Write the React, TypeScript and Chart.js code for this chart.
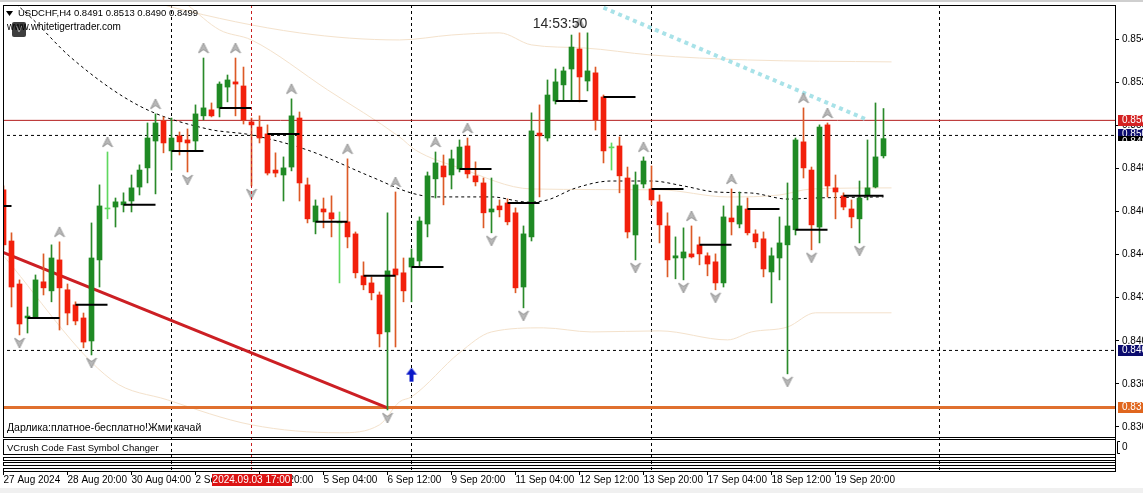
import React, { useEffect, useRef } from 'react';
import { Chart, registerables } from 'chart.js';

Chart.register(...registerables);

const FONT = '"Liberation Sans", Arial, sans-serif';

// ---------------- texts ----------------
const symbolTitle = 'USDCHF,H4';
const headerOHLC = ['0.8491', '0.8513', '0.8490', '0.8499'];
const siteText = 'www.whitetigertrader.com';
const clockText = '14:53:50';
const commentText = 'Дарлика:платное-бесплатно!Жми качай';
const panelText = 'VCrush Code Fast Symbol Changer';
const crosshairTimeText = '2024.09.03 17:00';

// ---------------- candles (H4, index 0 = 27 Aug 12:00) ----------------
const opens = [
  0.84752, 0.84514, 0.84314, 0.84156, 0.84161, 0.84324, 0.84282, 0.84426, 0.84287, 0.84217,
  0.84156, 0.84049, 0.84426, 0.84663, 0.84672, 0.84682, 0.847, 0.84765, 0.84854, 0.84979,
  0.85072, 0.84933, 0.85003, 0.84984, 0.84979, 0.85096, 0.85124, 0.85133, 0.8523, 0.85254,
  0.85235, 0.85068, 0.85044, 0.85012, 0.84844, 0.84821, 0.84858, 0.85086, 0.84775, 0.84603,
  0.84663, 0.84645, 0.84598, 0.84603, 0.84547, 0.84352, 0.84319, 0.84263, 0.84091, 0.84384,
  0.84366, 0.84393, 0.84421, 0.84593, 0.84803, 0.84863, 0.84821, 0.84849, 0.84956, 0.84817,
  0.84784, 0.84649, 0.84677, 0.84691, 0.84645, 0.843, 0.84533, 0.85016, 0.84993, 0.85165,
  0.8524, 0.85314, 0.85407, 0.85258, 0.85296, 0.85184, 0.84947, 0.84956, 0.84807, 0.84542,
  0.84779, 0.84756, 0.84696, 0.84584, 0.84435, 0.84435, 0.84454, 0.84496, 0.84445, 0.84417,
  0.84319, 0.84621, 0.84593, 0.84663, 0.84547, 0.84524, 0.8437, 0.84435, 0.84496, 0.84566,
  0.84975, 0.84844, 0.84579, 0.85054, 0.84761, 0.84724, 0.84663, 0.84617, 0.84728, 0.84765,
  0.8491,
];
const highs = [
  0.8477, 0.84552, 0.84333, 0.84207, 0.84356, 0.84454, 0.84496, 0.8451, 0.84314, 0.84231,
  0.84179, 0.84598, 0.84775, 0.84928, 0.84714, 0.84738, 0.84821, 0.84868, 0.85063, 0.85105,
  0.85091, 0.85086, 0.85021, 0.85035, 0.85147, 0.85365, 0.85156, 0.85254, 0.85286, 0.85365,
  0.85323, 0.85086, 0.85096, 0.85054, 0.84924, 0.84905, 0.85175, 0.85114, 0.84807, 0.84705,
  0.84714, 0.84724, 0.84649, 0.84896, 0.84556, 0.84417, 0.84347, 0.84277, 0.84645, 0.84742,
  0.84435, 0.84477, 0.84626, 0.84835, 0.84928, 0.84914, 0.84937, 0.84984, 0.84993, 0.84882,
  0.84807, 0.84807, 0.84705, 0.8471, 0.84668, 0.84584, 0.8511, 0.85147, 0.85263, 0.85314,
  0.85323, 0.85472, 0.85482, 0.85482, 0.85323, 0.85193, 0.8497, 0.84998, 0.84858, 0.84835,
  0.84905, 0.84863, 0.84728, 0.84645, 0.84533, 0.84575, 0.84584, 0.84533, 0.84459, 0.84454,
  0.84677, 0.84756, 0.84742, 0.84714, 0.84566, 0.84556, 0.84482, 0.84626, 0.84784, 0.84993,
  0.85133, 0.84858, 0.85054, 0.85063, 0.84821, 0.84738, 0.84705, 0.84793, 0.84984, 0.85156,
  0.8513,
];
const lows = [
  0.84473, 0.84207, 0.84077, 0.84086, 0.84156, 0.84263, 0.84231, 0.841, 0.84124, 0.84124,
  0.84017, 0.83984, 0.843, 0.84617, 0.84579, 0.84649, 0.84649, 0.84728, 0.84784, 0.84733,
  0.84924, 0.84844, 0.84914, 0.84835, 0.84937, 0.85077, 0.85091, 0.85091, 0.85161, 0.85096,
  0.85058, 0.8477, 0.8497, 0.84821, 0.84812, 0.847, 0.8484, 0.847, 0.84598, 0.84547,
  0.84575, 0.84533, 0.84319, 0.84482, 0.84342, 0.84287, 0.8424, 0.84021, 0.83728, 0.84021,
  0.84231, 0.84231, 0.84393, 0.84533, 0.84714, 0.84682, 0.84756, 0.84835, 0.84807, 0.8477,
  0.84575, 0.84552, 0.84626, 0.84589, 0.84273, 0.84203, 0.84514, 0.84719, 0.84979, 0.85151,
  0.8517, 0.8517, 0.85161, 0.85212, 0.8503, 0.84877, 0.84844, 0.84738, 0.84528, 0.84426,
  0.84761, 0.84682, 0.84505, 0.84347, 0.84338, 0.84333, 0.84435, 0.84403, 0.84352, 0.84287,
  0.843, 0.84542, 0.84575, 0.84542, 0.84482, 0.84347, 0.84226, 0.84333, 0.83896, 0.84542,
  0.84807, 0.84473, 0.84505, 0.84719, 0.84617, 0.84659, 0.84575, 0.84505, 0.84705, 0.84761,
  0.849,
];
const closes = [
  0.84496, 0.843, 0.84128, 0.84165, 0.84333, 0.84296, 0.84435, 0.84296, 0.84179, 0.84142,
  0.84044, 0.84435, 0.84677, 0.84663, 0.84696, 0.84696, 0.84761, 0.84844, 0.84993, 0.85063,
  0.8497, 0.84993, 0.84975, 0.8497, 0.85105, 0.85133, 0.85096, 0.85244, 0.85263, 0.85244,
  0.85077, 0.85054, 0.84993, 0.8483, 0.8483, 0.84854, 0.85096, 0.84784, 0.84617, 0.84677,
  0.84649, 0.84617, 0.84598, 0.84533, 0.84366, 0.8431, 0.84273, 0.84082, 0.84375, 0.84356,
  0.84282, 0.84435, 0.84607, 0.84817, 0.84877, 0.84812, 0.84896, 0.84951, 0.84826, 0.84789,
  0.84645, 0.84663, 0.84659, 0.84603, 0.84296, 0.84547, 0.85026, 0.85003, 0.85193, 0.85254,
  0.85305, 0.85416, 0.85277, 0.85305, 0.85077, 0.84933, 0.84947, 0.84817, 0.84556, 0.84775,
  0.84886, 0.84705, 0.84589, 0.84426, 0.84445, 0.84463, 0.8444, 0.84454, 0.84407, 0.84319,
  0.84626, 0.84603, 0.84677, 0.84552, 0.8451, 0.84384, 0.84445, 0.84505, 0.84584, 0.84984,
  0.84854, 0.84589, 0.85044, 0.8477, 0.84742, 0.84672, 0.84626, 0.84714, 0.84761, 0.84905,
  0.8499,
];

// ---------------- axes ----------------
const xTickIdx = [0, 8, 16, 24, 32, 40, 48, 56, 64, 72, 80, 88, 96, 104];
const xTickLabels = [
  '27 Aug 2024', '28 Aug 20:00', '30 Aug 04:00', '2 Sep 12:00', '3 Sep 20:00', '5 Sep 04:00', '6 Sep 12:00',
  '9 Sep 20:00', '11 Sep 04:00', '12 Sep 12:00', '13 Sep 20:00', '17 Sep 04:00', '18 Sep 12:00', '19 Sep 20:00',
];
const yTicks = [0.8365, 0.8385, 0.8405, 0.8425, 0.8445, 0.8465, 0.8485, 0.8505, 0.8525, 0.8545];
const yMin = 0.834442;
const yMax = 0.856116;
const xMin = -0.0625;
const xMax = 138.9375;

// ---------------- markers / lines ----------------
const separatorIdx = [21, 51, 81, 117];
const crosshairIdx = 31;
const dayStartIdx = [3, 9, 15, 21, 27, 33, 39, 45, 51, 57, 63, 69, 75, 81, 87, 93, 99, 105];
const prevDayStartIdx = -3;
const prevDayOpen = 0.84677;
const dayLineLen = 4;

const resistanceLevel = 0.85075;
const askLevel = 0.85005;
const supportLevel = 0.84005;
const bottomLevel = 0.8374;

const trendIdx = [-1, 48];
const trendPrices = [0.84475, 0.83738];
const dottedIdx = [75, 108];
const dottedPrices = [0.85599, 0.85077];

const maIdx = [1, 3.5, 8.5, 17, 25.5, 31, 38, 46, 51, 54, 61, 65.5, 68, 71.5, 76, 81, 85, 89, 93.5, 98, 101.5, 110];
const maPrices = [0.85635, 0.85551, 0.85365, 0.85142, 0.85035, 0.85007, 0.84937, 0.84812, 0.84737, 0.84719, 0.84719,
  0.84695, 0.84705, 0.8476, 0.84793, 0.84793, 0.8477, 0.84742, 0.84737, 0.84709, 0.84714, 0.84719];

const upperBandIdx = [18, 21, 37, 49.5, 56, 62, 66, 72.5, 81, 93, 111];
const upperBandPrices = [0.85635, 0.85602, 0.85482, 0.85449, 0.85472, 0.85482, 0.85426, 0.85412, 0.85379, 0.85356, 0.85347];
const midBandIdx = [23, 27, 31, 40.5, 49.5, 51.5, 57, 66, 82, 90.5, 97, 101, 111];
const midBandPrices = [0.85612, 0.85496, 0.85449, 0.85217, 0.84998, 0.84937, 0.84854, 0.84756, 0.84752, 0.84719, 0.84728, 0.84756, 0.84761];
const lowerBandIdx = [-0.5, 13.5, 20.5, 31, 42, 47, 49.5, 51, 57, 61, 67.5, 73.5, 82, 90.5, 93.5, 98, 101.5, 111];
const lowerBandPrices = [0.84467, 0.83868, 0.83775, 0.83659, 0.83622, 0.83659, 0.83766, 0.83789, 0.83994, 0.84091,
  0.8411, 0.84091, 0.84096, 0.84054, 0.84091, 0.84114, 0.8418, 0.8418];

const upFractalIdx = [7, 13, 19, 25, 29, 36, 43, 49, 54, 58, 72, 80, 86, 91, 100, 103];
const downFractalIdx = [2, 11, 23, 31, 48, 61, 65, 79, 85, 89, 98, 101, 107];
const buySignalIdx = 51;
const buySignalPrice = 0.8389;

// ---------------- colours ----------------
const BULL = '#1f8a24';
const BEAR = '#f2200c';
const DOJI = '#5fd85f';
const BULL_WICK = '#2a8a2a';
const BEAR_WICK = '#dc5a26';

const pts = (xs: number[], ys: number[]) => xs.map((x, i) => ({ x, y: ys[i] }));

function makeFractalGlyph(up: boolean): HTMLCanvasElement {
  const c = document.createElement('canvas');
  c.width = 12;
  c.height = 40;
  const g = c.getContext('2d')!;
  g.fillStyle = '#b8b8b8';
  g.strokeStyle = '#959595';
  g.lineWidth = 1;
  g.beginPath();
  if (up) {
    g.moveTo(6, 5); g.lineTo(11, 15); g.lineTo(6, 11.5); g.lineTo(1, 15);
  } else {
    g.moveTo(6, 33); g.lineTo(11, 23); g.lineTo(6, 26.5); g.lineTo(1, 23);
  }
  g.closePath();
  g.fill();
  g.stroke();
  return c;
}

function makeBuyArrow(): HTMLCanvasElement {
  const c = document.createElement('canvas');
  c.width = 12;
  c.height = 15;
  const g = c.getContext('2d')!;
  g.fillStyle = '#0a18c8';
  g.beginPath();
  g.moveTo(6, 0); g.lineTo(11.5, 7); g.lineTo(8, 7); g.lineTo(8, 14); g.lineTo(4, 14); g.lineTo(4, 7); g.lineTo(0.5, 7);
  g.closePath();
  g.fill();
  return c;
}

function priceTag(ctx: CanvasRenderingContext2D, y: number, bg: string, text: string) {
  const yy = Math.round(y);
  ctx.fillStyle = bg;
  ctx.fillRect(1118, yy - 5, 25, 11);
  ctx.fillStyle = '#ffffff';
  ctx.font = `10px ${FONT}`;
  ctx.textAlign = 'left';
  ctx.textBaseline = 'middle';
  ctx.fillText(text, 1122, yy + 0.5);
}

const decoPlugin = {
  id: 'mt4Deco',
  beforeDraw(chart: any) {
    const ctx = chart.ctx as CanvasRenderingContext2D;
    ctx.save();
    ctx.fillStyle = '#ffffff';
    ctx.fillRect(0, 0, chart.width, chart.height);
    ctx.fillStyle = '#cfcfcf';
    ctx.fillRect(0, 0, chart.width, 2);
    ctx.fillStyle = '#f0f0f0';
    ctx.fillRect(0, 488, chart.width, chart.height - 488);
    ctx.restore();
  },
  beforeDatasetsDraw(chart: any) {
    const ctx = chart.ctx as CanvasRenderingContext2D;
    const { chartArea, scales } = chart;
    ctx.save();
    ctx.strokeStyle = '#000000';
    ctx.lineWidth = 1;
    ctx.setLineDash([3, 3]);
    for (const k of separatorIdx) {
      const px = Math.floor(scales.x.getPixelForValue(k)) + 0.5;
      ctx.beginPath();
      ctx.moveTo(px, chartArea.top);
      ctx.lineTo(px, chartArea.bottom);
      ctx.stroke();
    }
    ctx.restore();
  },
  afterDatasetsDraw(chart: any) {
    const ctx = chart.ctx as CanvasRenderingContext2D;
    const { chartArea, scales } = chart;
    ctx.save();
    ctx.strokeStyle = '#c81e1e';
    ctx.lineWidth = 1;
    ctx.setLineDash([3, 3]);
    const px = Math.floor(scales.x.getPixelForValue(crosshairIdx)) + 0.5;
    ctx.beginPath();
    ctx.moveTo(px, chartArea.top);
    ctx.lineTo(px, chartArea.bottom);
    ctx.stroke();
    ctx.restore();
  },
  afterDraw(chart: any) {
    const ctx = chart.ctx as CanvasRenderingContext2D;
    const { scales } = chart;
    ctx.save();
    ctx.setLineDash([]);
    ctx.strokeStyle = '#000000';
    ctx.lineWidth = 1;
    // main window frame and indicator sub-windows
    ctx.strokeRect(3.5, 5.5, 1112, 432);
    ctx.strokeRect(3.5, 439.5, 1112, 15);
    ctx.strokeRect(3.5, 457.5, 1112, 3);
    ctx.strokeRect(3.5, 462.5, 1112, 3);
    ctx.strokeRect(3.5, 468.5, 1112, 3);
    // sub-window scale bracket
    ctx.beginPath();
    ctx.moveTo(1120, 441.5); ctx.lineTo(1117.5, 441.5); ctx.lineTo(1117.5, 453.5); ctx.lineTo(1120, 453.5);
    ctx.stroke();

    // header
    ctx.fillStyle = '#000000';
    ctx.beginPath();
    ctx.moveTo(6, 11); ctx.lineTo(13, 11); ctx.lineTo(9.5, 16); ctx.closePath();
    ctx.fill();
    ctx.font = `9.5px ${FONT}`;
    ctx.textAlign = 'left';
    ctx.textBaseline = 'middle';
    ctx.fillText(`${symbolTitle} ${headerOHLC.join(' ')}`, 18, 13.5);

    // badge + site
    ctx.fillStyle = '#3e3e3e';
    ctx.beginPath();
    (ctx as any).roundRect(12, 22, 14, 15, 2);
    ctx.fill();
    ctx.fillStyle = '#9c9c9c';
    ctx.font = `bold 9px ${FONT}`;
    ctx.textAlign = 'center';
    ctx.fillText('V', 19, 30);
    ctx.fillStyle = '#000000';
    ctx.font = `10px ${FONT}`;
    ctx.textAlign = 'left';
    ctx.fillText(siteText, 7, 27);

    // clock
    ctx.fillStyle = '#2a2a2a';
    ctx.font = `14px ${FONT}`;
    ctx.textAlign = 'center';
    ctx.fillText(clockText, 560, 24);

    // comment + panel text
    ctx.fillStyle = '#000000';
    ctx.font = `10.5px ${FONT}`;
    ctx.textAlign = 'left';
    ctx.fillText(commentText, 7, 428);
    ctx.font = `9.5px ${FONT}`;
    ctx.fillText(panelText, 7, 448);
    ctx.font = `10px ${FONT}`;
    ctx.fillText('0', 1122, 447.5);

    // price tags
    const y = scales.y;
    priceTag(ctx, y.getPixelForValue(resistanceLevel), '#d42222', resistanceLevel.toFixed(4));
    priceTag(ctx, y.getPixelForValue(askLevel) - 1, '#0b0b6e', askLevel.toFixed(4));
    const closeY = Math.round(y.getPixelForValue(closes[closes.length - 1]));
    ctx.save();
    ctx.beginPath();
    ctx.rect(1118, closeY - 3, 25, 5);
    ctx.clip();
    ctx.fillStyle = '#000000';
    ctx.fillRect(1118, closeY - 3, 25, 5);
    ctx.fillStyle = '#ffffff';
    ctx.fillText(closes[closes.length - 1].toFixed(4), 1122, closeY + 3);
    ctx.restore();
    priceTag(ctx, y.getPixelForValue(supportLevel), '#0b0b6e', supportLevel.toFixed(4));
    priceTag(ctx, y.getPixelForValue(bottomLevel), '#e0661e', bottomLevel.toFixed(4));

    // crosshair time tag
    ctx.font = `10px ${FONT}`;
    const w = ctx.measureText(crosshairTimeText).width + 2;
    const cx = scales.x.getPixelForValue(crosshairIdx);
    ctx.fillStyle = '#dc1414';
    ctx.fillRect(Math.round(cx - w / 2), 474, Math.round(w), 12);
    ctx.fillStyle = '#ffffff';
    ctx.textAlign = 'center';
    ctx.textBaseline = 'middle';
    ctx.fillText(crosshairTimeText, cx, 480.5);
    ctx.restore();
  },
};

export default function App() {
  const ref = useRef<HTMLCanvasElement | null>(null);

  useEffect(() => {
    document.body.style.margin = '0';
    const canvas = ref.current;
    if (!canvas) return;

    const upGlyph = makeFractalGlyph(true);
    const downGlyph = makeFractalGlyph(false);
    const buyGlyph = makeBuyArrow();

    const idx = opens.map((_, i) => i);
    const bodyColors = idx.map((i) => (closes[i] > opens[i] ? BULL : closes[i] < opens[i] ? BEAR : DOJI));
    const wickColors = idx.map((i) => (closes[i] > opens[i] ? BULL_WICK : closes[i] < opens[i] ? BEAR_WICK : DOJI));

    const dayOpenPts: { x: number; y: number | null }[] = [];
    const addDay = (start: number, level: number, end: number) => {
      dayOpenPts.push({ x: start, y: level }, { x: end, y: level }, { x: end, y: null });
    };
    addDay(prevDayStartIdx, prevDayOpen, prevDayStartIdx + dayLineLen);
    for (const d of dayStartIdx) {
      const end = d + 6 > opens.length - 1 ? opens.length - 1 : d + dayLineLen;
      addDay(d, opens[d], end);
    }

    const hLine = (level: number) => [{ x: xMin - 1, y: level }, { x: xMax + 1, y: level }];

    const band = (xs: number[], ys: number[], order: number) => ({
      type: 'line',
      data: pts(xs, ys),
      borderColor: '#f4e2cc',
      borderWidth: 1,
      pointRadius: 0,
      tension: 0.4,
      cubicInterpolationMode: 'monotone',
      fill: false,
      order,
    });

    const noPad = (scale: any) => {
      scale.paddingLeft = 0;
      scale.paddingRight = 0;
      scale.paddingTop = 0;
      scale.paddingBottom = 0;
    };

    const chart = new Chart(canvas, {
      type: 'bar',
      data: {
        datasets: [
          band(upperBandIdx, upperBandPrices, 20),
          band(midBandIdx, midBandPrices, 20),
          band(lowerBandIdx, lowerBandPrices, 20),
          {
            type: 'line', data: hLine(resistanceLevel), borderColor: '#b41e1e', borderWidth: 1,
            pointRadius: 0, order: 15,
          },
          {
            type: 'line', data: hLine(askLevel), borderColor: '#000000', borderWidth: 1, borderDash: [3, 3],
            pointRadius: 0, order: 15,
          },
          {
            type: 'line', data: hLine(supportLevel), borderColor: '#000000', borderWidth: 1, borderDash: [3, 3],
            pointRadius: 0, order: 15,
          },
          {
            type: 'line', data: hLine(bottomLevel), borderColor: '#e0702e', borderWidth: 3,
            pointRadius: 0, order: 15,
          },
          {
            type: 'line', data: pts(trendIdx, trendPrices), borderColor: '#cc1f24', borderWidth: 3,
            pointRadius: 0, order: 14,
          },
          {
            type: 'line', data: pts(maIdx, maPrices), borderColor: '#000000', borderWidth: 1, borderDash: [3, 3],
            pointRadius: 0, tension: 0.4, cubicInterpolationMode: 'monotone', order: 13,
          },
          {
            type: 'bar',
            data: idx.map((i) => ({ x: i, y: [lows[i], highs[i]] })),
            backgroundColor: wickColors,
            barThickness: 1,
            grouped: false,
            borderWidth: 0,
            order: 6,
          },
          {
            type: 'bar',
            data: idx.map((i) => ({ x: i, y: [opens[i], closes[i]] })),
            backgroundColor: bodyColors,
            barThickness: 5,
            minBarLength: 1,
            grouped: false,
            borderWidth: 0,
            order: 5,
          },
          {
            type: 'line', data: dayOpenPts, borderColor: '#000000', borderWidth: 2,
            pointRadius: 0, spanGaps: false, order: 4,
          },
          {
            type: 'line', data: pts(dottedIdx, dottedPrices), borderColor: '#a8e2e8', borderWidth: 4,
            borderDash: [4, 4], borderCapStyle: 'butt', pointRadius: 0, order: 3,
          },
          {
            type: 'scatter', data: upFractalIdx.map((k) => ({ x: k, y: highs[k] })),
            pointStyle: upGlyph, pointRadius: 6, order: 2,
          },
          {
            type: 'scatter', data: downFractalIdx.map((k) => ({ x: k, y: lows[k] })),
            pointStyle: downGlyph, pointRadius: 6, order: 2,
          },
          {
            type: 'scatter', data: [{ x: buySignalIdx, y: buySignalPrice }],
            pointStyle: buyGlyph, pointRadius: 6, order: 1,
          },
        ] as any,
      },
      options: {
        animation: false,
        responsive: false,
        devicePixelRatio: 1,
        events: [],
        layout: { autoPadding: false, padding: { left: 3, top: 5, right: 0, bottom: 0 } },
        plugins: { legend: { display: false }, tooltip: { enabled: false } },
        scales: {
          x: {
            type: 'linear',
            min: xMin,
            max: xMax,
            offset: false,
            grid: { display: true, drawOnChartArea: false, drawTicks: true, tickLength: 4, tickColor: '#000000', offset: false },
            border: { display: true, color: '#000000' },
            afterBuildTicks: (scale: any) => {
              scale.ticks = xTickIdx.map((v) => ({ value: v }));
            },
            afterFit: (scale: any) => {
              scale.height = 22;
              noPad(scale);
            },
            ticks: {
              autoSkip: false,
              maxRotation: 0,
              minRotation: 0,
              align: 'start',
              padding: 0,
              color: '#000000',
              font: { family: FONT, size: 10, lineHeight: 1 },
              callback: (value: any) => {
                const i = xTickIdx.indexOf(Number(value));
                return i >= 0 ? xTickLabels[i] : '';
              },
            },
          },
          y: {
            type: 'linear',
            position: 'right',
            min: yMin,
            max: yMax,
            beginAtZero: false,
            grid: { display: true, drawOnChartArea: false, drawTicks: true, tickLength: 4, tickColor: '#000000' },
            border: { display: true, color: '#000000' },
            afterBuildTicks: (scale: any) => {
              scale.ticks = yTicks.map((v) => ({ value: v }));
            },
            afterFit: (scale: any) => {
              scale.width = 28;
              noPad(scale);
            },
            ticks: {
              padding: 3,
              color: '#000000',
              font: { family: FONT, size: 10 },
              callback: (value: any) => Number(value).toFixed(4),
            },
          },
        },
      } as any,
      plugins: [decoPlugin as any],
    });

    return () => chart.destroy();
  }, []);

  return <canvas ref={ref} width={1143} height={493} style={{ display: 'block', width: '1143px', height: '493px' }} />;
}
